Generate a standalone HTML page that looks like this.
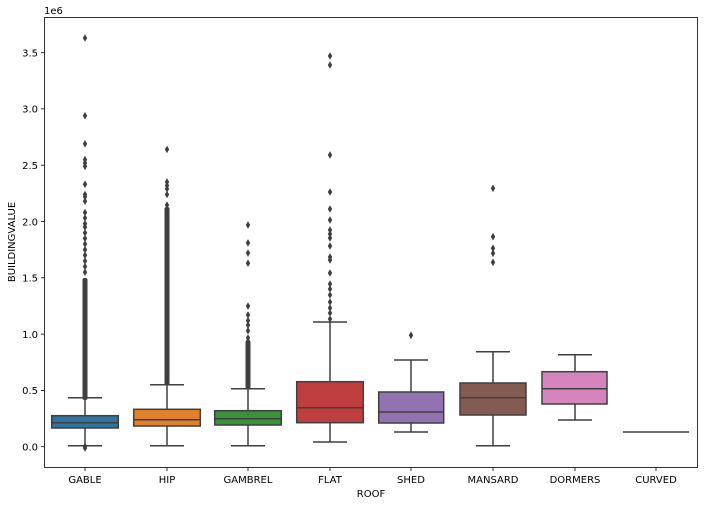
<!DOCTYPE html>
<html><head><meta charset="utf-8"><style>body{margin:0;background:#fff}svg{display:block}text{font-family:"DejaVu Sans","Liberation Sans",sans-serif;font-size:10px;fill:#000}</style></head><body>
<svg width="704" height="505" xmlns="http://www.w3.org/2000/svg">
<defs><path id="d" d="M0,-3.8 L2.2,0 L0,3.8 L-2.2,0Z" fill="#3f3f3f"/></defs>
<g stroke="#3f3f3f" stroke-width="1.5" fill="none">
<!-- GABLE -->
<line x1="85" y1="397.7" x2="85" y2="445.7"/><line x1="68" y1="397.7" x2="102" y2="397.7"/><line x1="68" y1="445.7" x2="102" y2="445.7"/>
<rect x="51.7" y="415.7" width="66.6" height="12.3" fill="#3274a1"/><line x1="51.7" y1="422.7" x2="118.3" y2="422.7"/>
<!-- HIP -->
<line x1="167" y1="384.7" x2="167" y2="445.7"/><line x1="150" y1="384.7" x2="184" y2="384.7"/><line x1="150" y1="445.7" x2="184" y2="445.7"/>
<rect x="133.7" y="409.3" width="66.6" height="16.7" fill="#e1812c"/><line x1="133.7" y1="419.7" x2="200.3" y2="419.7"/>
<!-- GAMBREL -->
<line x1="248" y1="388.7" x2="248" y2="445.7"/><line x1="231" y1="388.7" x2="265" y2="388.7"/><line x1="231" y1="445.7" x2="265" y2="445.7"/>
<rect x="214.7" y="410.7" width="66.6" height="14.3" fill="#3a923a"/><line x1="214.7" y1="418.7" x2="281.3" y2="418.7"/>
<!-- FLAT -->
<line x1="330" y1="322" x2="330" y2="442"/><line x1="313" y1="322" x2="347" y2="322"/><line x1="313" y1="442" x2="347" y2="442"/>
<rect x="296.7" y="381.7" width="66.6" height="41" fill="#c03d3e"/><line x1="296.7" y1="407.7" x2="363.3" y2="407.7"/>
<!-- SHED -->
<line x1="411" y1="360" x2="411" y2="432"/><line x1="394" y1="360" x2="428" y2="360"/><line x1="394" y1="432" x2="428" y2="432"/>
<rect x="378.7" y="392" width="65" height="31" fill="#9372b2"/><line x1="378.7" y1="412" x2="443.7" y2="412"/>
<!-- MANSARD -->
<line x1="493" y1="351.7" x2="493" y2="445.7"/><line x1="476" y1="351.7" x2="510" y2="351.7"/><line x1="476" y1="445.7" x2="510" y2="445.7"/>
<rect x="460" y="383" width="66" height="32" fill="#845b53"/><line x1="460" y1="397.7" x2="526" y2="397.7"/>
<!-- DORMERS -->
<line x1="575" y1="354.7" x2="575" y2="420"/><line x1="558" y1="354.7" x2="592" y2="354.7"/><line x1="558" y1="420" x2="592" y2="420"/>
<rect x="542" y="371.7" width="65" height="32.3" fill="#d684bd"/><line x1="542" y1="388.7" x2="607" y2="388.7"/>
<!-- CURVED -->
<line x1="623" y1="432" x2="689" y2="432"/>
</g>
<g fill="#3f3f3f">
<rect x="82.5" y="278" width="5" height="122" rx="2"/>
<rect x="164.5" y="207" width="5" height="178" rx="2"/>
<rect x="245.5" y="340" width="5" height="49" rx="2"/>
</g>
<g>
<use href="#d" x="85" y="446.5"/><use href="#d" x="85" y="448"/>
<use href="#d" x="85" y="38"/><use href="#d" x="85" y="115.7"/><use href="#d" x="85" y="143.8"/><use href="#d" x="85" y="159.6"/><use href="#d" x="85" y="163"/><use href="#d" x="85" y="166.3"/><use href="#d" x="85" y="184.3"/><use href="#d" x="85" y="194.5"/><use href="#d" x="85" y="196.7"/><use href="#d" x="85" y="201.2"/><use href="#d" x="85" y="212.5"/><use href="#d" x="85" y="218"/><use href="#d" x="85" y="223.7"/><use href="#d" x="85" y="227"/><use href="#d" x="85" y="232.8"/><use href="#d" x="85" y="238.4"/><use href="#d" x="85" y="244"/><use href="#d" x="85" y="249.7"/><use href="#d" x="85" y="255.3"/><use href="#d" x="85" y="261"/><use href="#d" x="85" y="266.5"/><use href="#d" x="85" y="272.2"/>
<use href="#d" x="167" y="149.4"/><use href="#d" x="167" y="182"/><use href="#d" x="167" y="185.5"/><use href="#d" x="167" y="188.9"/><use href="#d" x="167" y="194.5"/><use href="#d" x="167" y="205"/>
<use href="#d" x="248" y="225"/><use href="#d" x="248" y="242.9"/><use href="#d" x="248" y="253"/><use href="#d" x="248" y="263.2"/><use href="#d" x="248" y="306"/><use href="#d" x="248" y="315"/><use href="#d" x="248" y="320.6"/><use href="#d" x="248" y="325"/><use href="#d" x="248" y="330.7"/><use href="#d" x="248" y="338"/>
<use href="#d" x="330" y="56"/><use href="#d" x="330" y="65"/><use href="#d" x="330" y="155"/><use href="#d" x="330" y="192"/><use href="#d" x="330" y="209"/><use href="#d" x="330" y="220"/><use href="#d" x="330" y="230"/><use href="#d" x="330" y="234"/><use href="#d" x="330" y="238"/><use href="#d" x="330" y="246"/><use href="#d" x="330" y="257"/><use href="#d" x="330" y="260"/><use href="#d" x="330" y="273"/><use href="#d" x="330" y="284"/><use href="#d" x="330" y="289"/><use href="#d" x="330" y="295"/><use href="#d" x="330" y="302"/><use href="#d" x="330" y="308"/><use href="#d" x="330" y="313"/><use href="#d" x="330" y="319"/>
<use href="#d" x="411" y="335.3"/>
<use href="#d" x="493" y="188.3"/><use href="#d" x="493" y="236.7"/><use href="#d" x="493" y="248.3"/><use href="#d" x="493" y="253.3"/><use href="#d" x="493" y="262.3"/>
</g>
<rect x="44.5" y="17.5" width="653" height="450" fill="none" stroke="#000" stroke-width="0.8"/>
<g stroke="#000" stroke-width="0.8">
<line x1="41" y1="446.7" x2="44.5" y2="446.7"/><line x1="41" y1="390.4" x2="44.5" y2="390.4"/><line x1="41" y1="334.1" x2="44.5" y2="334.1"/><line x1="41" y1="277.8" x2="44.5" y2="277.8"/><line x1="41" y1="221.5" x2="44.5" y2="221.5"/><line x1="41" y1="165.2" x2="44.5" y2="165.2"/><line x1="41" y1="108.9" x2="44.5" y2="108.9"/><line x1="41" y1="52.7" x2="44.5" y2="52.7"/>
<line x1="85" y1="467.5" x2="85" y2="471"/><line x1="167" y1="467.5" x2="167" y2="471"/><line x1="248" y1="467.5" x2="248" y2="471"/><line x1="330" y1="467.5" x2="330" y2="471"/><line x1="411" y1="467.5" x2="411" y2="471"/><line x1="493" y1="467.5" x2="493" y2="471"/><line x1="575" y1="467.5" x2="575" y2="471"/><line x1="656" y1="467.5" x2="656" y2="471"/>
</g>
<g text-anchor="end">
<text x="38" y="450.5">0.0</text><text x="38" y="394.2">0.5</text><text x="38" y="337.9">1.0</text><text x="38" y="281.6">1.5</text><text x="38" y="225.3">2.0</text><text x="38" y="169">2.5</text><text x="38" y="112.7">3.0</text><text x="38" y="56.5">3.5</text>
</g>
<g text-anchor="middle">
<text x="85" y="483">GABLE</text><text x="167" y="483">HIP</text><text x="248" y="483">GAMBREL</text><text x="330" y="483">FLAT</text><text x="411" y="483">SHED</text><text x="493" y="483">MANSARD</text><text x="575" y="483">DORMERS</text><text x="656" y="483">CURVED</text>
<text x="371" y="497">ROOF</text>
<text transform="translate(15,242) rotate(-90)">BUILDINGVALUE</text>
</g>
<text x="44" y="14">1e6</text>
</svg>
</body></html>
